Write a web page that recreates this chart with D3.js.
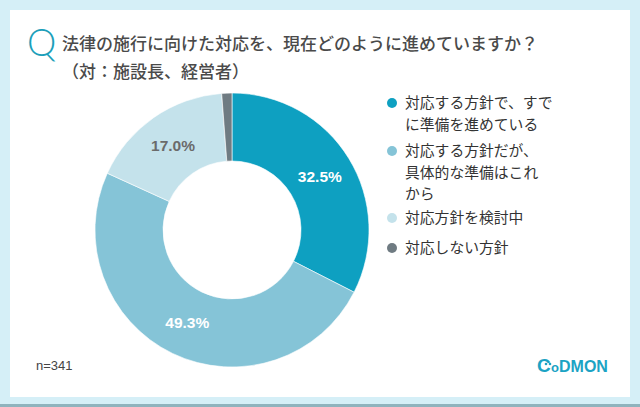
<!DOCTYPE html>
<html>
<head>
<meta charset="utf-8">
<script src="https://cdn.jsdelivr.net/npm/d3@7"></script>
<style>
  body { margin: 0; background: #d5eff7; }
  svg { display: block; font-family: "Noto Sans CJK JP", "Liberation Sans", sans-serif; }
</style>
</head>
<body>
<svg id="chart" width="640" height="407"></svg>
<script>
// Data
const categories = ["対応する方針で、すでに準備を進めている", "対応する方針だが、具体的な準備はこれから", "対応方針を検討中", "対応しない方針"];
const values = [32.5, 49.3, 17.0, 1.2];
const colors = ["#0ea0c1", "#85c4d7", "#c4e2eb", "#6f7b82"];
const labelColors = ["#ffffff", "#ffffff", "#6b6b6b", null];
const legendLines = [
    ["対応する方針で、すで", "に準備を進めている"],
    ["対応する方針だが、", "具体的な準備はこれ", "から"],
    ["対応方針を検討中"],
    ["対応しない方針"]
];

const svg = d3.select("#chart");

// card background
svg.append("rect").attr("x", 0).attr("y", 0).attr("width", 640).attr("height", 407).attr("fill", "#d5eff7");
svg.append("rect").attr("x", 10).attr("y", 10).attr("width", 620).attr("height", 387).attr("fill", "#ffffff");
svg.append("rect").attr("x", 0).attr("y", 404).attr("width", 640).attr("height", 3).attr("fill", "#8fb3bd");

// Title
svg.append("text")
    .attr("x", 27).attr("y", 56)
    .attr("font-family", "Lato, 'Open Sans', sans-serif")
    .attr("font-weight", 300)
    .attr("font-size", 37)
    .attr("fill", "#1c9fba")
    .text("Q");

svg.append("text")
    .attr("x", 62).attr("y", 50)
    .attr("font-size", 17)
    .attr("font-weight", 500)
    .attr("fill", "#4a4a4a")
    .text("法律の施行に向けた対応を、現在どのように進めていますか？");

svg.append("text")
    .attr("x", 62).attr("y", 78)
    .attr("font-size", 17)
    .attr("font-weight", 500)
    .attr("fill", "#4a4a4a")
    .text("（対：施設長、経営者）");

// Donut
const cx = 232, cy = 230;
const outerR = 137, innerR = 69;

const pie = d3.pie().sort(null).value(d => d);
const arcs = pie(values);
const arc = d3.arc().innerRadius(innerR).outerRadius(outerR);
const labelArc = d3.arc().innerRadius(103).outerRadius(103);

const g = svg.append("g").attr("transform", `translate(${cx},${cy})`);

g.selectAll("path")
    .data(arcs)
    .join("path")
    .attr("d", arc)
    .attr("fill", (d, i) => colors[i])
    .attr("stroke", "#ffffff")
    .attr("stroke-width", 0.6);

g.selectAll("text.pct")
    .data(arcs.filter((d, i) => labelColors[i]))
    .join("text")
    .attr("class", "pct")
    .attr("transform", d => `translate(${labelArc.centroid(d)})`)
    .attr("text-anchor", "middle")
    .attr("dy", "0.35em")
    .attr("font-family", "'Liberation Sans', Arial, sans-serif")
    .attr("font-weight", "bold")
    .attr("font-size", 15.5)
    .attr("fill", (d) => labelColors[d.index])
    .text(d => d.value.toFixed(1) + "%");

// Legend
const legendY = [103, 151, 218, 248];
const legend = svg.append("g");
legendLines.forEach((lines, i) => {
    legend.append("circle")
        .attr("cx", 392).attr("cy", legendY[i])
        .attr("r", 5)
        .attr("fill", colors[i]);
    const t = legend.append("text")
        .attr("x", 405).attr("y", legendY[i])
        .attr("font-size", 14.8)
        .attr("fill", "#333");
    lines.forEach((line, j) => {
        t.append("tspan")
            .attr("x", 405)
            .attr("dy", j === 0 ? "0.35em" : 21.5)
            .text(line);
    });
});

// n
svg.append("text")
    .attr("x", 36).attr("y", 370)
    .attr("font-family", "'Liberation Sans', Arial, sans-serif")
    .attr("font-size", 13)
    .attr("fill", "#444")
    .text("n=341");

// logo
const logo = svg.append("g").attr("transform", "translate(537,372)");
logo.append("text")
    .attr("x", 0).attr("y", 0)
    .attr("font-family", "'Liberation Sans', Arial, sans-serif")
    .attr("font-weight", "bold")
    .attr("font-size", 19)
    .attr("fill", "#1ba3c4")
    .text("C");
logo.append("circle").attr("cx", 9).attr("cy", -8).attr("r", 1.3).attr("fill", "#1ba3c4");
logo.append("circle").attr("cx", 13).attr("cy", -8).attr("r", 1.3).attr("fill", "#1ba3c4");
logo.append("text")
    .attr("x", 14).attr("y", 0)
    .attr("font-family", "'Liberation Sans', Arial, sans-serif")
    .attr("font-weight", "bold")
    .attr("font-size", 13)
    .attr("fill", "#1ba3c4")
    .text("o");
logo.append("text")
    .attr("x", 22).attr("y", 0)
    .attr("font-family", "'Liberation Sans', Arial, sans-serif")
    .attr("font-weight", "bold")
    .attr("font-size", 16)
    .attr("fill", "#1ba3c4")
    .text("DMON");
</script>
</body>
</html>
